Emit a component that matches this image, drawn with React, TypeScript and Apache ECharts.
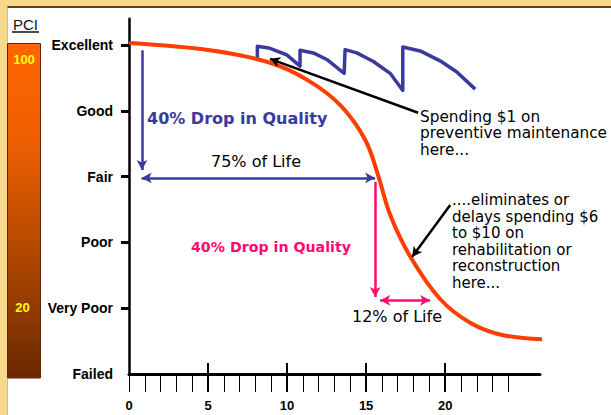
import React, { useEffect, useRef } from "react";
import * as echarts from "echarts";

// ---- data ----
const conditionLabels = ["Failed", "Very Poor", "Poor", "Fair", "Good", "Excellent"];
const yTickValues = [1, 2, 3, 4, 5];
const yLabelValues = [0, 1, 2, 3, 4, 5];
const xMinorTicks = [0, 1, 2, 3, 4, 5, 6, 7, 8, 9, 10, 11, 12, 13, 14, 15, 16, 17, 18, 19, 20, 21, 22, 23, 24];
const xMajorTicks = [5, 10, 15, 20];
const xLabelValues = [0, 5, 10, 15, 20];

// deterioration curve (age in years, condition level)
const ageYears = [0, 5.13, 8.92, 11.27, 13.35, 14.94, 15.76, 16.52, 17.78, 19.68, 21.58, 23.67, 26.77];
const conditionLevel = [5.03, 4.92, 4.73, 4.47, 4.09, 3.56, 3.02, 2.42, 1.79, 1.14, 0.78, 0.59, 0.52];

// preventive maintenance sawtooth
const maintYears = [8.12, 8.12, 8.92, 9.98, 10.82, 10.82, 11.66, 12.51, 13.61, 13.67, 14.41, 15.46, 16.52, 17.32, 17.32, 18.42, 19.68, 20.74, 21.9];
const maintLevel = [4.77, 4.98, 4.95, 4.85, 4.68, 4.92, 4.88, 4.78, 4.57, 4.93, 4.88, 4.75, 4.57, 4.31, 4.97, 4.91, 4.76, 4.59, 4.33];

// annotation arrows, [start, end] in data coordinates
const blueDrop = [[0.82, 4.92], [0.82, 3.1]];
const blueLife = [[0.8, 2.98], [15.57, 2.98]];
const pinkDrop = [[15.57, 2.92], [15.57, 1.17]];
const pinkLife = [[15.89, 1.12], [19.05, 1.12]];
const pointerMaint = [[18.29, 3.97], [8.92, 4.79]];
const pointerRehab = [[20.32, 2.57], [17.91, 1.78]];

const BLUE = "#3a3a9e";
const PINK = "#ff0a6e";
const RED = "#ff3d00";

function arrow(pair: number[][], color: string, startArrow: boolean, width = 2.5) {
  return [
    { coord: pair[0], symbol: startArrow ? "arrow" : "none", symbolSize: [8, 10], lineStyle: { color, width, type: "solid" } },
    { coord: pair[1], symbol: "arrow", symbolSize: [8, 10] },
  ];
}

export default function App() {
  const ref = useRef<HTMLDivElement>(null);

  useEffect(() => {
    if (!ref.current) return;
    const chart = echarts.init(ref.current, null, { renderer: "svg" });
    const annoFont = "DejaVu Sans, Verdana, sans-serif";
    const axisFont = "Liberation Sans, Arial, sans-serif";
    chart.setOption({
      animation: false,
      backgroundColor: "transparent",
      textStyle: { fontFamily: axisFont },
      grid: { left: 129, top: 18.7, width: 411, height: 355.3, containLabel: false },
      xAxis: [
        {
          type: "value",
          min: 0,
          max: 26,
          position: "bottom",
          splitLine: { show: false },
          axisLine: { show: true, lineStyle: { color: "#000", width: 3 } },
          axisTick: { show: true, customValues: xMinorTicks, length: 18, inside: false, lineStyle: { color: "#000", width: 1 } },
          axisLabel: {
            show: true,
            customValues: xLabelValues,
            margin: 25,
            color: "#000",
            fontSize: 13,
            fontWeight: "bold",
            fontFamily: axisFont,
          },
        },
        {
          type: "value",
          min: 0,
          max: 26,
          position: "bottom",
          splitLine: { show: false },
          axisLine: { show: false },
          axisTick: { show: true, customValues: xMajorTicks, length: 18, inside: false, lineStyle: { color: "#000", width: 2 } },
          axisLabel: { show: false },
        },
        {
          type: "value",
          min: 0,
          max: 26,
          position: "bottom",
          splitLine: { show: false },
          axisLine: { show: false },
          axisTick: { show: true, customValues: xMajorTicks, length: 11, inside: true, lineStyle: { color: "#000", width: 2 } },
          axisLabel: { show: false },
        },
      ],
      yAxis: {
        type: "value",
        min: 0,
        max: 5.4,
        splitLine: { show: false },
        axisLine: { show: true, lineStyle: { color: "#000", width: 2.5 } },
        axisTick: { show: true, customValues: yTickValues, length: 8, lineStyle: { color: "#000", width: 3 } },
        axisLabel: {
          show: true,
          customValues: yLabelValues,
          showMinLabel: true,
          margin: 16,
          color: "#000",
          fontSize: 14,
          fontWeight: "bold",
          fontFamily: axisFont,
          formatter: (v: number) => conditionLabels[Math.round(v)] ?? "",
        },
      },
      series: [
        {
          type: "line",
          data: ageYears.map((x, i) => [x, conditionLevel[i]]),
          smooth: 0.35,
          showSymbol: false,
          clip: false,
          lineStyle: { color: RED, width: 4 },
          silent: true,
          z: 3,
          markLine: {
            silent: true,
            animation: false,
            label: { show: false },
            emphasis: { disabled: true },
            data: [
              arrow(blueDrop, BLUE, false),
              arrow(blueLife, BLUE, true),
              arrow(pinkDrop, PINK, false),
              arrow(pinkLife, PINK, true),
              arrow(pointerMaint, "#000", false),
              arrow(pointerRehab, "#000", false),
            ],
          },
        },
        {
          type: "line",
          data: maintYears.map((x, i) => [x, maintLevel[i]]),
          smooth: false,
          showSymbol: false,
          clip: false,
          lineStyle: { color: BLUE, width: 3.5, join: "round" },
          silent: true,
          z: 2,
        },
      ],
      graphic: [
        {
          type: "rect",
          shape: { x: 7.5, y: 43.5, width: 33, height: 334.5 },
          style: {
            fill: new echarts.graphic.LinearGradient(0, 0, 0, 1, [
              { offset: 0, color: "#ff6600" },
              { offset: 0.3, color: "#ec5e00" },
              { offset: 0.6, color: "#b64b00" },
              { offset: 1, color: "#6a2800" },
            ]),
            stroke: "#5a2808",
            lineWidth: 1,
          },
          silent: true,
        },
        {
          type: "text",
          x: 25.5,
          y: 24,
          style: { text: "PCI", font: "15px " + axisFont, fill: "#111", align: "center", verticalAlign: "middle", textAlign: "center", textVerticalAlign: "middle" },
          silent: true,
        },
        {
          type: "line",
          shape: { x1: 12, y1: 32, x2: 39, y2: 32 },
          style: { stroke: "#111", lineWidth: 1.5 },
          silent: true,
        },
        {
          type: "text",
          x: 24,
          y: 59,
          style: { text: "100", font: "bold 13px " + axisFont, fill: "#ffff00", align: "center", verticalAlign: "middle", textAlign: "center", textVerticalAlign: "middle" },
          silent: true,
        },
        {
          type: "text",
          x: 22.5,
          y: 307,
          style: { text: "20", font: "bold 13px " + axisFont, fill: "#ffff00", align: "center", verticalAlign: "middle", textAlign: "center", textVerticalAlign: "middle" },
          silent: true,
        },
        {
          type: "text",
          x: 147,
          y: 118,
          style: { text: "40% Drop in Quality", font: "bold 16px " + annoFont, fill: BLUE, align: "left", verticalAlign: "middle", textAlign: "left", textVerticalAlign: "middle" },
          silent: true,
        },
        {
          type: "text",
          x: 211,
          y: 161,
          style: { text: "75% of Life", font: "16px " + annoFont, fill: "#000", align: "left", verticalAlign: "middle", textAlign: "left", textVerticalAlign: "middle" },
          silent: true,
        },
        {
          type: "text",
          x: 191,
          y: 247,
          style: { text: "40% Drop in Quality", font: "bold 14.2px " + annoFont, fill: PINK, align: "left", verticalAlign: "middle", textAlign: "left", textVerticalAlign: "middle" },
          silent: true,
        },
        {
          type: "text",
          x: 352,
          y: 316,
          style: { text: "12% of Life", font: "16px " + annoFont, fill: "#000", align: "left", verticalAlign: "middle", textAlign: "left", textVerticalAlign: "middle" },
          silent: true,
        },
        {
          type: "text",
          x: 420,
          y: 108.5,
          style: {
            text: "Spending $1 on\npreventive maintenance\nhere...",
            font: "15.3px " + annoFont,
            lineHeight: 16.5,
            fill: "#000",
            align: "left",
            verticalAlign: "top",
            textAlign: "left",
            textVerticalAlign: "top",
          },
          silent: true,
        },
        {
          type: "text",
          x: 452,
          y: 191.75,
          style: {
            text: "....eliminates or\ndelays spending $6\nto $10 on\nrehabilitation or\nreconstruction\nhere...",
            font: "15px " + annoFont,
            lineHeight: 16.5,
            fill: "#000",
            align: "left",
            verticalAlign: "top",
            textAlign: "left",
            textVerticalAlign: "top",
          },
          silent: true,
        },
      ],
    });
    return () => chart.dispose();
  }, []);

  return (
    <div style={{ position: "fixed", left: 0, top: 0, width: 611, height: 415, background: "#f7d98b", overflow: "hidden" }}>
      <div
        style={{
          position: "absolute",
          left: 7,
          top: 6,
          right: 0,
          bottom: 0,
          background: "#ffffff",
          borderTop: "2px solid #6b3b1b",
          borderLeft: "1px solid #d6bd78",
        }}
      />
      <div ref={ref} style={{ position: "absolute", left: 0, top: 0, width: 611, height: 415 }} />
    </div>
  );
}
